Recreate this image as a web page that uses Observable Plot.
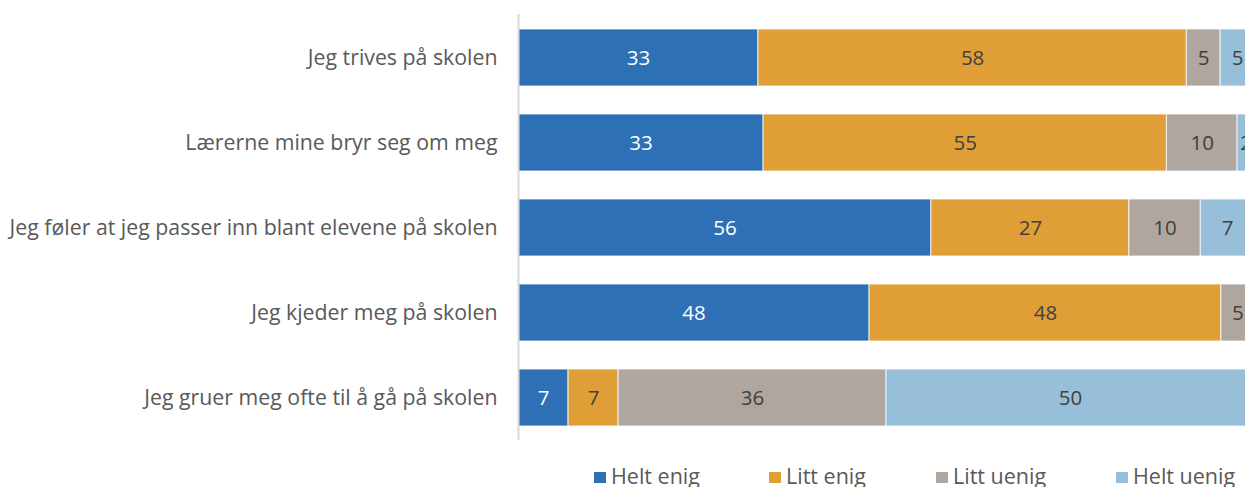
<!DOCTYPE html>
<html>
<head>
<meta charset="utf-8">
<script src="https://cdn.jsdelivr.net/npm/d3@7"></script>
<script src="https://cdn.jsdelivr.net/npm/@observablehq/plot@0.6"></script>
<style>
  html, body { margin: 0; padding: 0; background: #fff; overflow: hidden; width: 1245px; height: 487px; }
  #chart svg { display: block; overflow: hidden; }
  #legend { position: relative; height: 37px; font-family: "Open Sans", sans-serif; font-size: 21.5px; color: #595959; }
  .item { position: absolute; top: 13px; display: flex; align-items: flex-start; white-space: nowrap; line-height: 26px; }
  .sw { width: 12px; height: 11px; margin-top: 9px; margin-right: 5px; }
</style>
</head>
<body>
<div id="chart"></div>
<div id="legend"></div>
<script>
const statements = [
  "Jeg trives på skolen",
  "Lærerne mine bryr seg om meg",
  "Jeg føler at jeg passer inn blant elevene på skolen",
  "Jeg kjeder meg på skolen",
  "Jeg gruer meg ofte til å gå på skolen"
];
const categories = ["Helt enig", "Litt enig", "Litt uenig", "Helt uenig"];
const colors = ["#2E70B5", "#E09E36", "#AEA69F", "#98BFDA"];
const heltEnig  = [32.6, 33.3, 56.1, 47.7, 6.8];
const littEnig  = [58.2, 54.8, 26.9, 47.8, 6.8];
const littUenig = [4.6, 9.6, 9.7, 4.5, 36.4];
const heltUenig = [4.6, 2.3, 7.3, 0, 50.0];
const series = [heltEnig, littEnig, littUenig, heltUenig];

const data = [];
statements.forEach((s, i) => {
  categories.forEach((c, j) => {
    data.push({statement: s, category: c, value: series[j][i]});
  });
});
const shown = data.filter(d => d.value > 0);

const plot = Plot.plot({
  width: 1245,
  height: 450,
  marginTop: 14,
  marginBottom: 10,
  marginLeft: 518,
  marginRight: -9,
  style: {fontFamily: "'Open Sans', sans-serif", background: "#fff"},
  x: {domain: [0, 100], axis: null},
  y: {domain: statements, paddingInner: 0.33, paddingOuter: 0.165, label: null},
  color: {domain: categories, range: colors},
  marks: [
    Plot.barX(shown, Plot.stackX({
      x: "value", y: "statement", fill: "category",
      order: categories, stroke: "#fff", strokeWidth: 1, strokeOpacity: 0.8
    })),
    Plot.text(shown, Plot.stackX({
      x: "value", y: "statement", z: "category",
      order: categories,
      text: d => String(Math.round(d.value)),
      fill: d => d.category === "Helt enig" ? "#ffffff" : "#404040",
      fontSize: 20.5
    })),
    Plot.axisY({tickSize: 0, tickPadding: 21, fontSize: 21.3, fill: "#595959", label: null}),
    Plot.ruleX([0], {stroke: "#d9d9d9", strokeWidth: 2})
  ]
});
document.getElementById("chart").appendChild(plot);

const legendPos = [594, 769, 936, 1116];
const legend = document.getElementById("legend");
categories.forEach((c, j) => {
  const item = document.createElement("div");
  item.className = "item";
  item.style.left = legendPos[j] + "px";
  const sw = document.createElement("div");
  sw.className = "sw";
  sw.style.background = colors[j];
  const t = document.createElement("span");
  t.textContent = c;
  item.appendChild(sw);
  item.appendChild(t);
  legend.appendChild(item);
});
</script>
</body>
</html>
